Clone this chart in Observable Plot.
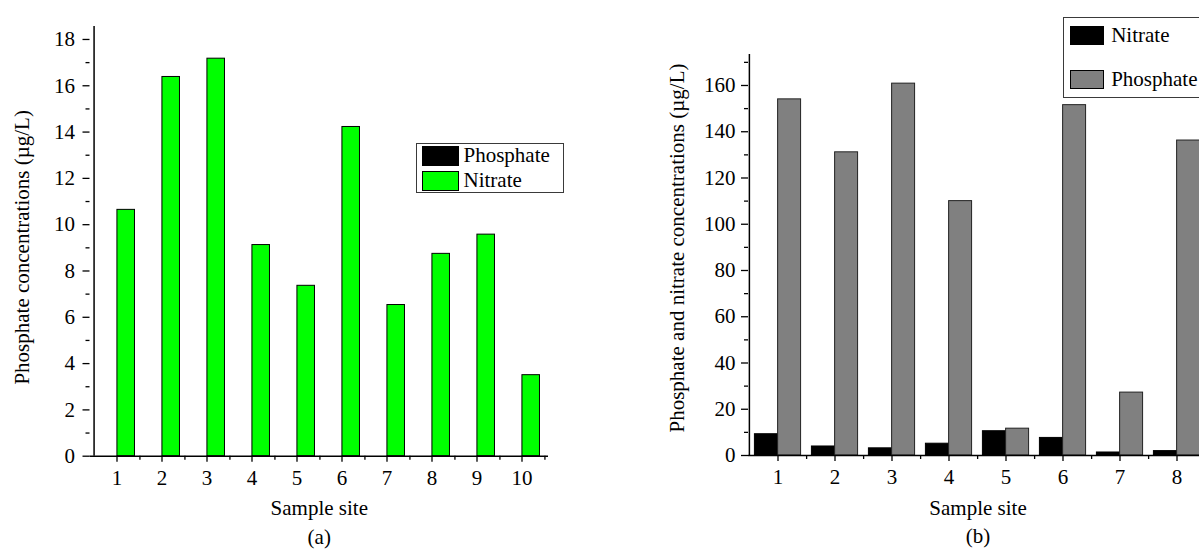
<!DOCTYPE html>
<html>
<head>
<meta charset="utf-8">
<script src="https://cdn.jsdelivr.net/npm/d3@7"></script>
<script src="https://cdn.jsdelivr.net/npm/@observablehq/plot@0.6"></script>
<style>
  html, body { margin: 0; padding: 0; background: #fff; }
  body { width: 1199px; height: 549px; overflow: hidden; position: relative;
         font-family: "Liberation Serif", "Times New Roman", serif; }
  #a { position: absolute; left: 0; top: 0; width: 600px; height: 549px; }
  #b { position: absolute; left: 600px; top: 0; width: 740px; height: 549px; }
  #a svg, #b svg { max-width: none !important; display: block; }
  .legend { position: absolute; border: 1.5px solid #3a3a3a; background: #fff;
            font-size: 21px; color: #000; box-sizing: border-box; }
  .item { position: absolute; display: flex; align-items: center; white-space: nowrap; }
  .sw { border: 1px solid #000; box-sizing: border-box; }
</style>
</head>
<body>
<div id="a"></div>
<div id="b"></div>
<div id="legA" class="legend" style="left:416px;top:143px;width:148px;height:50px;"></div>
<div id="legB" class="legend" style="left:1063px;top:17px;width:200px;height:81px;"></div>
<script>
// ---------- data ----------
// Panel (a)
const sitesA = [1, 2, 3, 4, 5, 6, 7, 8, 9, 10];
const phosphateA = [0, 0, 0, 0, 0, 0, 0, 0, 0, 0];
const nitrateA = [10.64, 16.38, 17.17, 9.12, 7.36, 14.22, 6.53, 8.74, 9.57, 3.50];
const yMajorA = [0, 2, 4, 6, 8, 10, 12, 14, 16, 18];
const yMinorA = [1, 3, 5, 7, 9, 11, 13, 15, 17];
const seriesA = ["Phosphate", "Nitrate"];
const colorsA = ["#000000", "#00ff00"];
const yTitleA = "Phosphate concentrations (µg/L)";
// Panel (b) (sites 9 and 10 lie outside the visible picture)
const sitesB = [1, 2, 3, 4, 5, 6, 7, 8, 9, 10];
const nitrateB = [9.2, 3.9, 3.1, 5.1, 10.5, 7.6, 1.3, 1.9];
const phosphateB = [154.0, 131.1, 160.8, 110.0, 11.6, 151.5, 27.2, 136.2];
const xTicksB = [1, 2, 3, 4, 5, 6, 7, 8];
const yMajorB = [0, 20, 40, 60, 80, 100, 120, 140, 160];
const yMinorB = [10, 30, 50, 70, 90, 110, 130, 150, 170];
const seriesB = ["Nitrate", "Phosphate"];
const colorsB = ["#000000", "#808080"];
const yTitleB = "Phosphate and nitrate concentrations (µg/L)";
const xTitle = "Sample site";

const FONT = '"Liberation Serif", "Times New Roman", serif';

// ---------- panel (a) ----------
const rowsA = sitesA.flatMap((s, i) => [
  {site: s, series: "Phosphate", value: phosphateA[i]},
  {site: s, series: "Nitrate", value: nitrateA[i]}
]);
const WA = 600, mLA = 89.5, mRA = 52, mTA = 26, mBA = 93.3;
const bwA = (WA - mLA - mRA) / sitesA.length;
const barA = 18.4;
const yTopA = 18.56;

const plotA = Plot.plot({
  width: WA, height: 549,
  marginLeft: mLA, marginRight: mRA, marginTop: mTA, marginBottom: mBA,
  style: {fontFamily: FONT, fontSize: "21px", background: "transparent", color: "#000", overflow: "visible"},
  x: {type: "band", domain: sitesA, padding: 0, axis: null},
  y: {domain: [0, yTopA], axis: null},
  marks: [
    Plot.barY(rowsA.filter(d => d.series === "Nitrate"), {
      x: "site", y: "value", fill: colorsA[1], stroke: "#000", strokeWidth: 1,
      insetLeft: bwA / 2, insetRight: bwA / 2 - barA
    }),
    Plot.barY(rowsA.filter(d => d.series === "Phosphate"), {
      x: "site", y: "value", fill: colorsA[0], stroke: "#000", strokeWidth: 1,
      insetLeft: bwA / 2 - barA, insetRight: bwA / 2
    }),
    Plot.ruleY([0], {strokeWidth: 1.5}),
    Plot.ruleX([sitesA[0]], {x: d => d, dx: -bwA / 2, y1: 0, y2: yTopA, strokeWidth: 1.5}),
    Plot.axisY({ticks: yMajorA, tickSize: 7, tickPadding: 8, label: null, strokeWidth: 1.3}),
    Plot.axisY({ticks: yMinorA, tickSize: 4, tickFormat: () => "", label: null, strokeWidth: 1.3}),
    Plot.axisX({tickSize: 6, tickPadding: 7.4, label: null, strokeWidth: 1.3}),
    Plot.ruleX(sitesA, {x: d => d, dx: bwA / 2, y1: 0, y2: 0, insetBottom: -4, strokeWidth: 1.3}),
    Plot.text([xTitle], {text: d => d, frameAnchor: "bottom", textAnchor: "middle", lineAnchor: "middle", dy: 52.3, fontSize: 21}),
    Plot.text(["(a)"], {text: d => d, frameAnchor: "bottom", textAnchor: "middle", lineAnchor: "middle", dy: 81.3, fontSize: 21}),
    Plot.text([yTitleA], {text: d => d, frameAnchor: "left", textAnchor: "middle", lineAnchor: "middle", rotate: -90, dx: -68, dy: 6, fontSize: 21})
  ]
});
document.getElementById("a").appendChild(plotA);

// ---------- panel (b) ----------
const rowsB = nitrateB.flatMap((v, i) => [
  {site: sitesB[i], series: "Nitrate", value: v},
  {site: sitesB[i], series: "Phosphate", value: phosphateB[i]}
]);
const WB = 740, mLB = 148, mTB = 54, mBB = 94;
const bwB = 57.23;
const mRB = WB - mLB - bwB * sitesB.length;
const barB = 23.2;
const yTopB = 173.4;

const plotB = Plot.plot({
  width: WB, height: 549,
  marginLeft: mLB, marginRight: mRB, marginTop: mTB, marginBottom: mBB,
  style: {fontFamily: FONT, fontSize: "21px", background: "transparent", color: "#000", overflow: "visible"},
  x: {type: "band", domain: sitesB, padding: 0, axis: null},
  y: {domain: [0, yTopB], axis: null},
  marks: [
    Plot.barY(rowsB.filter(d => d.series === "Nitrate"), {
      x: "site", y: "value", fill: colorsB[0], stroke: "#000", strokeWidth: 1,
      insetLeft: bwB / 2 - barB, insetRight: bwB / 2
    }),
    Plot.barY(rowsB.filter(d => d.series === "Phosphate"), {
      x: "site", y: "value", fill: colorsB[1], stroke: "#222", strokeWidth: 1,
      insetLeft: bwB / 2, insetRight: bwB / 2 - barB
    }),
    Plot.ruleY([0], {strokeWidth: 1.5}),
    Plot.ruleX([sitesB[0]], {x: d => d, dx: -bwB / 2, y1: 0, y2: yTopB, strokeWidth: 1.5}),
    Plot.axisY({ticks: yMajorB, tickSize: 7, tickPadding: 6, label: null, strokeWidth: 1.3}),
    Plot.axisY({ticks: yMinorB, tickSize: 4, tickFormat: () => "", label: null, strokeWidth: 1.3}),
    Plot.axisX({ticks: xTicksB, tickSize: 6, tickPadding: 7.8, label: null, strokeWidth: 1.3}),
    Plot.ruleX(sitesB, {x: d => d, dx: bwB / 2, y1: 0, y2: 0, insetBottom: -4, strokeWidth: 1.3}),
    Plot.text([yTitleB], {text: d => d, frameAnchor: "left", textAnchor: "middle", lineAnchor: "middle", rotate: -90, dx: -71, dy: -7, fontSize: 21})
  ]
});
document.getElementById("b").appendChild(plotB);

// x-title and caption of (b), centred on the visible part of the axis as in the original
{
  const svg = d3.select(plotB);
  const cx = 978 - 600;
  svg.append("text").attr("x", cx).attr("y", 549 - mBB + 53.3).attr("dy", "0.32em")
    .attr("text-anchor", "middle").attr("font-size", 21).attr("fill", "#000").text(xTitle);
  svg.append("text").attr("x", cx).attr("y", 549 - mBB + 81.7).attr("dy", "0.32em")
    .attr("text-anchor", "middle").attr("font-size", 21).attr("fill", "#000").text("(b)");
}

// ---------- legends ----------
function legend(id, names, colors, pos) {
  const box = document.getElementById(id);
  names.forEach((n, i) => {
    const it = document.createElement("div");
    it.className = "item";
    it.style.left = pos.left + "px";
    it.style.top = (pos.top + i * pos.step) + "px";
    it.style.height = pos.h + "px";
    const sw = document.createElement("div");
    sw.className = "sw";
    sw.style.width = pos.w + "px";
    sw.style.height = pos.h + "px";
    sw.style.background = colors[i];
    sw.style.marginRight = pos.gap + "px";
    const t = document.createElement("span");
    t.textContent = n;
    it.appendChild(sw); it.appendChild(t);
    box.appendChild(it);
  });
}
legend("legA", seriesA, colorsA, {left: 4.5, top: 1.5, step: 25, w: 37, h: 20, gap: 5});
legend("legB", seriesB, colorsB, {left: 6.2, top: 8.2, step: 43.3, w: 34.3, h: 19.3, gap: 6.7});
</script>
</body>
</html>
